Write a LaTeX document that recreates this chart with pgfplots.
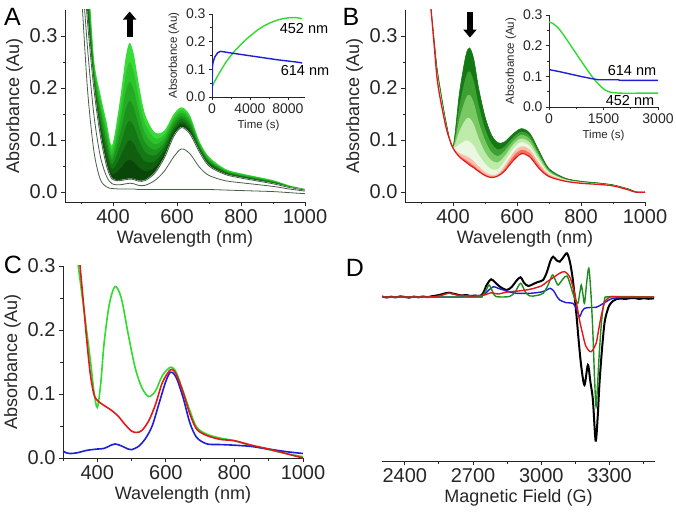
\documentclass[border=0pt]{standalone}
\usepackage{fontspec}
\setmainfont{Liberation Sans}
\usepackage{pgfplots}
\usepackage{pgfplotstable}
\pgfplotsset{compat=1.18}
\usetikzlibrary{arrows.meta}

\definecolor{aF0}{RGB}{70,95,70}
\definecolor{aF1}{RGB}{10,70,10}
\definecolor{aF2}{RGB}{15,95,15}
\definecolor{aF3}{RGB}{20,120,20}
\definecolor{aF4}{RGB}{28,145,28}
\definecolor{aF5}{RGB}{36,170,36}
\definecolor{aF6}{RGB}{45,195,45}
\definecolor{aF7}{RGB}{55,220,55}
\definecolor{bR1}{RGB}{245,110,90}
\definecolor{bR2}{RGB}{252,190,170}
\definecolor{bR3}{RGB}{235,248,225}
\definecolor{bR4}{RGB}{190,235,170}
\definecolor{bR5}{RGB}{120,200,100}
\definecolor{bR6}{RGB}{60,160,50}
\definecolor{bR7}{RGB}{20,120,20}
\definecolor{cred}{RGB}{225,25,25}
\definecolor{cgreen}{RGB}{45,220,45}
\definecolor{cblue}{RGB}{30,30,215}
\definecolor{dgreen}{RGB}{30,140,30}

\pgfplotstableread{
x f0 f1 f2 f3 f4 f5 f6 f7 g1 g0
300 .50 .514 .529 .543 .557 .571 .586 .60 .45 .40
320 .33 .347 .364 .381 .399 .416 .433 .45 .28 .20
340 .20 .209 .217 .226 .234 .243 .251 .26 .15 .08
360 .11 .121 .133 .144 .156 .167 .179 .19 .07 .025
380 .05 .062 .074 .086 .099 .111 .123 .135 .03 .01
397 .025 .034 .044 .053 .062 .071 .081 .09 .016 .007
420 .022 .043 .064 .085 .107 .128 .149 .17 .014 .006
440 .024 .058 .091 .125 .159 .193 .226 .26 .016 .006
452 .025 .062 .100 .137 .175 .212 .250 .287 .017 .006
465 .024 .058 .093 .127 .162 .196 .231 .265 .016 .006
480 .021 .048 .075 .102 .129 .156 .183 .21 .013 .005
500 .022 .040 .059 .077 .095 .113 .132 .15 .013 .005
530 .036 .047 .059 .070 .081 .092 .104 .115 .022 .005
560 .065 .073 .080 .088 .095 .103 .110 .118 .040 .005
590 .107 .113 .119 .125 .132 .138 .144 .15 .068 .005
614 .124 .130 .135 .141 .146 .152 .157 .163 .083 .005
640 .112 .117 .122 .127 .133 .138 .143 .148 .074 .005
670 .077 .080 .083 .086 .089 .092 .095 .098 .048 .005
700 .050 .053 .055 .058 .060 .063 .065 .068 .032 .005
750 .034 .036 .037 .039 .040 .042 .043 .045 .022 .004
800 .027 .028 .030 .031 .032 .033 .035 .036 .018 .003
900 .016 .017 .018 .019 .020 .021 .022 .023 .011 .001
950 .009 .010 .010 .011 .011 .012 .012 .013 .006 -.001
1000 .004 .004 .005 .005 .005 .005 .006 .006 .002 -.003
}\tabA

\pgfplotstableread{
x r0 r1 r2 r3 r4 r5 r6 r7
330 .36 .36 .36 .36 .36 .36 .36 .36
340 .29 .291 .293 .294 .296 .297 .299 .30
350 .22 .223 .226 .229 .231 .234 .237 .24
360 .18 .183 .186 .189 .191 .194 .197 .20
380 .12 .121 .123 .124 .126 .127 .129 .13
400 .085 .085 .086 .086 .087 .087 .088 .088
420 .068 .070 .075 .092 .117 .141 .166 .19
440 .058 .062 .070 .099 .140 .180 .221 .262
452 .052 .057 .066 .097 .142 .187 .232 .277
465 .047 .051 .059 .089 .130 .172 .213 .255
480 .040 .043 .050 .072 .104 .136 .168 .20
500 .032 .034 .039 .055 .077 .100 .122 .145
520 .028 .030 .033 .044 .061 .077 .094 .11
540 .031 .032 .035 .044 .057 .069 .082 .095
560 .040 .044 .050 .058 .068 .078 .087 .096
590 .062 .070 .077 .085 .093 .100 .107 .113
614 .074 .081 .088 .096 .103 .110 .116 .122
640 .068 .075 .082 .088 .095 .102 .108 .113
670 .045 .050 .055 .060 .065 .070 .074 .078
700 .030 .032 .035 .037 .039 .041 .043 .045
750 .021 .022 .023 .024 .024 .025 .026 .027
800 .017 .018 .018 .019 .019 .020 .020 .021
850 .015 .015 .016 .016 .016 .017 .017 .018
900 .012 .012 .013 .013 .013 .013 .014 .014
950 .004 .004 .005 .005 .005 .005 .006 .006
970 .000 .000 .000 .000 .001 .001 .001 .001
1000 0 0 0 0 0 0 0 0
}\tabB

\pgfplotsset{
  panel/.style={
    scale only axis, axis lines*=left, tick align=outside,
    axis line style={line width=0.9pt, black!85},
    major tick length=4pt, minor tick length=2.5pt,
    every tick/.append style={line width=0.8pt, black!85},
    tick label style={font=\fontsize{20}{22}\selectfont, text=black!85},
    label style={font=\fontsize{18}{20}\selectfont, text=black!85},
    /pgf/number format/assume math mode=true,
    xticklabel style={/pgf/number format/1000 sep={}},
    yticklabel style={/pgf/number format/fixed, /pgf/number format/fixed zerofill, /pgf/number format/precision=1},
    scaled y ticks=false, scaled x ticks=false,
  },
  inset/.style={panel,
    tick label style={font=\fontsize{14}{15}\selectfont},
    label style={font=\fontsize{11.5}{12}\selectfont},
    major tick length=3pt, minor tick length=2pt,
  },
}

\begin{document}
\begin{tikzpicture}
\useasboundingbox (0pt,0pt) rectangle (676pt,511pt);

% ---------------- Panel A ----------------
\begin{axis}[panel, at={(65pt,309pt)}, anchor=south west, width=240pt, height=192pt,
  xmin=250, xmax=1000, ymin=-0.019, ymax=0.35,
  xtick={400,600,800,1000}, minor xtick={300,500,700,900},
  ytick={0,0.1,0.2,0.3}, minor ytick={0.05,0.15,0.25},
  xlabel={Wavelength (nm)}, ylabel={Absorbance (Au)}]
\addplot[fill=aF7, draw=none, smooth] table[x=x,y=f7]{\tabA} \closedcycle;
\addplot[fill=aF6, draw=none, smooth] table[x=x,y=f6]{\tabA} \closedcycle;
\addplot[fill=aF5, draw=none, smooth] table[x=x,y=f5]{\tabA} \closedcycle;
\addplot[fill=aF4, draw=none, smooth] table[x=x,y=f4]{\tabA} \closedcycle;
\addplot[fill=aF3, draw=none, smooth] table[x=x,y=f3]{\tabA} \closedcycle;
\addplot[fill=aF2, draw=none, smooth] table[x=x,y=f2]{\tabA} \closedcycle;
\addplot[fill=aF1, draw=none, smooth] table[x=x,y=f1]{\tabA} \closedcycle;
\addplot[fill=white, draw=white, line width=1.2pt, smooth] table[x=x,y=f0]{\tabA} \closedcycle;
\draw[white, line width=3pt] (axis cs:260,0) -- (axis cs:1000,0);
\addplot[aF0, line width=0.8pt, smooth] table[x=x,y=f0]{\tabA};
\addplot[aF0, line width=0.8pt, smooth] table[x=x,y=g1]{\tabA};
\addplot[aF0, line width=0.8pt, smooth] table[x=x,y=g0]{\tabA};
\draw[line width=6pt, -{Triangle[width=13pt,length=8pt]}] (axis cs:452,0.298) -- (axis cs:452,0.347);
\end{axis}

% inset A
\begin{axis}[inset, at={(212pt,414pt)}, anchor=south west, width=93pt, height=83pt,
  xmin=0, xmax=9800, ymin=0, ymax=0.3,
  xtick={0,4000,8000}, minor xtick={2000,6000},
  ytick={0,0.1,0.2,0.3}, minor ytick={0.05,0.15,0.25},
  xlabel={Time (s)}, ylabel={Absorbance (Au)}]
\addplot[cgreen, line width=1.4pt, smooth] coordinates {(0,0.035) (150,0.048) (500,0.07) (1000,0.1) (1500,0.127) (2000,0.15) (2500,0.17) (3000,0.188) (3500,0.205) (4000,0.22) (5000,0.247) (6000,0.266) (7000,0.279) (8000,0.286) (8800,0.287) (9500,0.283)};
\addplot[cblue, line width=1.4pt] coordinates {(0,0) (20,0.06) (60,0.115) (150,0.13) (300,0.145) (600,0.16) (900,0.165) (1300,0.163) (2000,0.159) (3000,0.154) (4000,0.149) (5000,0.144) (6000,0.139) (7000,0.134) (8000,0.13) (9000,0.126) (9500,0.123)};
\end{axis}

% ---------------- Panel B ----------------
\begin{axis}[panel, at={(405pt,309pt)}, anchor=south west, width=240pt, height=192pt,
  xmin=250, xmax=1000, ymin=-0.019, ymax=0.35,
  xtick={400,600,800,1000}, minor xtick={300,500,700,900},
  ytick={0,0.1,0.2,0.3}, minor ytick={0.05,0.15,0.25},
  xlabel={Wavelength (nm)}, ylabel={Absorbance (Au)}]
\addplot[fill=bR7, draw=none, smooth] table[x=x,y=r7]{\tabB} \closedcycle;
\addplot[fill=bR6, draw=none, smooth] table[x=x,y=r6]{\tabB} \closedcycle;
\addplot[fill=bR5, draw=none, smooth] table[x=x,y=r5]{\tabB} \closedcycle;
\addplot[fill=bR4, draw=none, smooth] table[x=x,y=r4]{\tabB} \closedcycle;
\addplot[fill=bR3, draw=none, smooth] table[x=x,y=r3]{\tabB} \closedcycle;
\addplot[fill=bR2, draw=none, smooth] table[x=x,y=r2]{\tabB} \closedcycle;
\addplot[fill=bR1, draw=none, smooth] table[x=x,y=r1]{\tabB} \closedcycle;
\addplot[fill=white, draw=white, line width=1.2pt, smooth] table[x=x,y=r0]{\tabB} \closedcycle;
\draw[white, line width=3pt] (axis cs:260,0) -- (axis cs:1000,0);
\addplot[bR7, line width=0.6pt, smooth] table[x=x,y=r7]{\tabB};
\addplot[cred, line width=1.3pt, smooth] table[x=x,y=r0]{\tabB};
\draw[line width=6pt, -{Triangle[width=13pt,length=8pt]}] (axis cs:453,0.347) -- (axis cs:453,0.297);
\end{axis}

% inset B
\begin{axis}[inset, at={(549pt,404pt)}, anchor=south west, width=109pt, height=92pt,
  xmin=0, xmax=3000, ymin=0, ymax=0.3,
  xtick={0,1500,3000}, minor xtick={750,2250},
  ytick={0,0.1,0.2,0.3}, minor ytick={0.05,0.15,0.25},
  xlabel={Time (s)}, ylabel={Absorbance (Au)}]
\addplot[cgreen, line width=1.4pt, smooth] coordinates {(0,0.277) (100,0.273) (250,0.258) (400,0.235) (600,0.2) (800,0.165) (1000,0.13) (1200,0.097) (1400,0.07) (1550,0.055) (1700,0.048) (1850,0.046) (2000,0.045) (2500,0.045) (3000,0.045)};
\addplot[cblue, line width=1.4pt] coordinates {(0,0.122) (300,0.115) (600,0.107) (900,0.099) (1200,0.092) (1350,0.089) (1900,0.089) (1950,0.087) (3000,0.087)};
\end{axis}

% ---------------- Panel C ----------------
\begin{axis}[panel, at={(63pt,53pt)}, anchor=south west, width=240pt, height=192pt,
  xmin=300, xmax=1000, ymin=0, ymax=0.3,
  xtick={400,600,800,1000}, minor xtick={300,500,700,900},
  ytick={0,0.1,0.2,0.3}, minor ytick={0.05,0.15,0.25},
  xlabel={Wavelength (nm)}, ylabel={Absorbance (Au)}]
\addplot[cgreen, line width=1.6pt, smooth] coordinates {(342,0.31) (360,0.236) (380,0.152) (390,0.105) (400,0.079) (410,0.116) (420,0.18) (435,0.24) (452,0.268) (470,0.25) (490,0.194) (510,0.142) (530,0.11) (550,0.096) (570,0.105) (590,0.129) (614,0.142) (630,0.134) (650,0.105) (670,0.074) (690,0.048) (720,0.037) (760,0.031) (800,0.027) (850,0.019) (900,0.013) (950,0.007) (1000,0.002)};
\addplot[cblue, line width=1.6pt, smooth] coordinates {(300,0.011) (310,0.008) (320,0.007) (340,0.008) (370,0.012) (400,0.014) (420,0.015) (440,0.02) (452,0.022) (470,0.019) (490,0.014) (500,0.013) (520,0.018) (540,0.03) (560,0.05) (580,0.085) (600,0.12) (614,0.134) (630,0.126) (650,0.095) (670,0.055) (690,0.032) (720,0.022) (760,0.021) (800,0.02) (850,0.018) (900,0.014) (950,0.01) (1000,0.007)};
\addplot[cred, line width=1.6pt, smooth] coordinates {(348,0.31) (360,0.24) (370,0.18) (380,0.13) (390,0.10) (400,0.09) (420,0.082) (440,0.075) (460,0.066) (480,0.053) (500,0.042) (515,0.040) (530,0.043) (550,0.058) (570,0.084) (590,0.118) (614,0.138) (630,0.131) (650,0.103) (670,0.069) (690,0.045) (720,0.035) (760,0.029) (800,0.027) (850,0.02) (900,0.014) (950,0.007) (1000,0.0)};
\end{axis}

% ---------------- Panel D ----------------
\begin{axis}[panel, at={(382pt,50pt)}, anchor=south west, width=273pt, height=211pt,
  xmin=2300, xmax=3500, ymin=-164, ymax=47, hide y axis,
  xtick={2400,2700,3000,3300}, minor xtick={2550,2850,3150,3450},
  xlabel={Magnetic Field (G)}]
\addplot[black, line width=2pt, smooth] coordinates {(2300,0.5) (2320,-0.5) (2340,0.3) (2360,-0.4) (2380,0.6) (2400,0) (2420,-0.6) (2440,0.4) (2460,-0.3) (2480,0.5) (2500,-0.2) (2520,0.8) (2540,1.5) (2560,2.5) (2580,3.8) (2595,4.3) (2610,3.5) (2630,2.5) (2650,1.5) (2670,2.0) (2690,1.0) (2710,1.5) (2730,1.0) (2745,4) (2760,12) (2780,17.7) (2800,14) (2820,10) (2848,7) (2870,10) (2890,16) (2909,19.7) (2925,14) (2943,11) (2965,13) (2985,15) (3008,17) (3025,25) (3040,36) (3052,40.3) (3066,37) (3081,35.3) (3098,40) (3113,43.7) (3126,35) (3139,17) (3154,-16.3) (3165,-45) (3176,-69.7) (3190,-88) (3205,-68) (3216,-85) (3227,-103) (3239,-143.7) (3248,-120) (3256,-86) (3266,-55) (3278,-26) (3290,-14) (3300,-8) (3315,-4) (3329,-2.3) (3350,-1.5) (3370,-2) (3387,-1.3) (3410,-1) (3430,-2) (3450,-1.2) (3470,-1.8) (3496,-1.3)};
\addplot[cblue, line width=1.4pt, smooth] coordinates {(2300,0) (2700,0) (2740,1) (2765,6) (2790,10.3) (2812,8.5) (2834,7) (2860,5) (2892,3.7) (2950,3.7) (3000,5) (3024,7) (3039,8.7) (3055,6) (3070,0) (3081,-3) (3110,-5.7) (3139,-6.3) (3155,-12) (3168,-19.7) (3180,-14) (3190,-11.3) (3215,-10.5) (3241,-10.3) (3265,-7.5) (3285,-4.7) (3314,-1.3) (3358,-0.7) (3496,0)};
\addplot[dgreen, line width=1.4pt, smooth] coordinates {(2300,0) (2700,0) (2740,1) (2760,8) (2771,12) (2785,6) (2800,0.5) (2860,0.5) (2885,5) (2909,13.7) (2930,5) (2950,1) (2980,1.5) (3008,3.7) (3030,12) (3049,22) (3062,17) (3074,12) (3095,18) (3113,21) (3128,12) (3139,3.7) (3150,-3) (3161,-6.3) (3170,5) (3176,12) (3183,3) (3190,-6.3) (3200,15) (3209,28.7) (3218,5) (3227,-36.3) (3234,-80) (3241,-109.7) (3248,-85) (3256,-53) (3266,-22) (3278,-3) (3300,0.3) (3496,0)};
\addplot[cred, line width=1.4pt, smooth] coordinates {(2300,0) (2500,0) (2560,1.5) (2595,4) (2630,2) (2700,1) (2750,2) (2780,4.3) (2810,3) (2850,5) (2900,6) (2950,7.7) (3000,11) (3024,15) (3050,19) (3081,23.7) (3103,25.3) (3125,20.3) (3137,12) (3147,3.7) (3158,-10) (3168,-23) (3183,-38) (3197,-49.7) (3219,-54.7) (3241,-46.3) (3252,-33) (3263,-19.7) (3275,-8) (3285,-3) (3307,0.3) (3350,0) (3496,0)};
\end{axis}

% labels
\node[font=\fontsize{25}{26}\selectfont] at (12.5pt,494.5pt) {A};
\node[font=\fontsize{25}{26}\selectfont] at (351pt,494pt) {B};
\node[font=\fontsize{25}{26}\selectfont] at (13pt,246pt) {C};
\node[font=\fontsize{25}{26}\selectfont] at (355pt,243pt) {D};
\node[font=\fontsize{14.5}{15}\selectfont] at (304pt,482pt) {452 nm};
\node[font=\fontsize{14.5}{15}\selectfont] at (305pt,440pt) {614 nm};
\node[font=\fontsize{14.5}{15}\selectfont] at (632pt,440pt) {614 nm};
\node[font=\fontsize{14.5}{15}\selectfont] at (630pt,410pt) {452 nm};
\end{tikzpicture}
\end{document}
